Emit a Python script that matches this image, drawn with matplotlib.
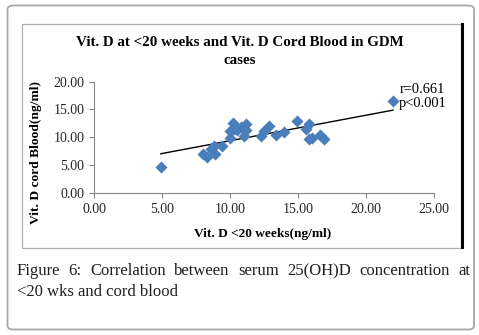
import numpy as np
import matplotlib
matplotlib.use('Agg')
import matplotlib.pyplot as plt
from matplotlib.patches import FancyBboxPatch, Rectangle
from matplotlib.lines import Line2D

# valeurs
vit_d_20wk = [4.9, 8.0, 8.3, 8.6, 8.8, 8.9, 9.4, 10.0, 10.0, 10.2, 10.3, 10.5, 10.8, 11.0, 11.2,
              11.2, 12.3, 12.5, 12.9, 13.4, 14.0, 14.9, 15.6, 15.8, 15.8, 16.0, 16.6, 16.9, 22.0]
vit_d_cord = [4.6, 6.9, 6.4, 7.9, 8.5, 6.9, 8.4, 9.9, 11.2, 12.5, 11.5, 11.3, 11.8, 10.3, 12.3,
              11.3, 10.3, 11.2, 12.0, 10.4, 11.0, 13.0, 11.4, 12.3, 9.6, 9.9, 10.4, 9.6, 16.6]
x_ticks = [0, 5, 10, 15, 20, 25]
y_ticks = [0, 5, 10, 15, 20]
stats_text = ['r=0.661', 'p<0.001']
caption_line1 = 'Figure 6: Correlation between serum 25(OH)D concentration at'
caption_line2 = '<20 wks and cord blood'

W, H = 479, 335
serif = ['Liberation Serif', 'DejaVu Serif']

fig = plt.figure(figsize=(W / 100, H / 100), dpi=100)

def fx(px):
    return px / W

def fy(py):
    return 1 - py / H

# cadre exterieur arrondi
fig.patches.append(FancyBboxPatch((fx(7.5), fy(329.5)), fx(474) - fx(7.5), fy(5.5) - fy(329.5),
                                  boxstyle='round,pad=0,rounding_size=0.012',
                                  transform=fig.transFigure, fill=False,
                                  edgecolor='#a6a6a6', linewidth=1.3))
# cadre du graphique
fig.patches.append(Rectangle((fx(21.7), fy(247.7)), fx(461) - fx(21.7), fy(24) - fy(247.7),
                             transform=fig.transFigure, fill=False,
                             edgecolor='#b0b0b0', linewidth=0.9))
fig.lines.append(Line2D([fx(461.5), fx(461.5)], [fy(23.5), fy(247)], transform=fig.transFigure,
                        color='black', linewidth=2.2))

ax = fig.add_axes([fx(94.3), fy(192.7), fx(433.7) - fx(94.3), fy(81.7) - fy(192.7)])

ax.scatter(vit_d_20wk, vit_d_cord, marker='D', s=38, color='#4a7ebb', linewidths=0, zorder=3)

x = np.array(vit_d_20wk)
y = np.array(vit_d_cord)
a, b = np.polyfit(x, y, 1)
xl = np.array([x.min(), x.max()])
ax.plot(xl, a * xl + b, color='black', linewidth=1.0, zorder=2)

ax.set_xlim(0, 25)
ax.set_ylim(0, 20)
ax.set_xticks(x_ticks)
ax.set_yticks(y_ticks)
ax.set_xticklabels(['%.2f' % v for v in x_ticks], fontfamily=serif, fontsize=10, color='#262626')
ax.set_yticklabels(['%.2f' % v for v in y_ticks], fontfamily=serif, fontsize=10, color='#262626')
ax.tick_params(direction='out', length=3.6, width=0.8, color='#868686', pad=3.5)
for s in ['top', 'right']:
    ax.spines[s].set_visible(False)
for s in ['left', 'bottom']:
    ax.spines[s].set_color('#868686')
    ax.spines[s].set_linewidth(0.8)
ax.patch.set_alpha(0)

ax.set_xlabel('Vit. D <20 weeks(ng/ml)', fontfamily=serif, fontweight='bold', fontsize=9.6)
ax.set_ylabel('Vit. D cord Blood(ng/ml)', fontfamily=serif, fontweight='bold', fontsize=9.7)
ax.xaxis.set_label_coords((263 - 94.3) / 339.4, (192.7 - 228) / 111)
ax.yaxis.set_label_coords((42.5 - 94.3) / 339.4, (192.7 - 152) / 111)

fig.text(fx(240), fy(42), 'Vit. D at <20 weeks and Vit. D Cord Blood in GDM', ha='center', va='center',
         fontfamily=serif, fontweight='bold', fontsize=10.8)
fig.text(fx(240), fy(60), 'cases', ha='center', va='center',
         fontfamily=serif, fontweight='bold', fontsize=10.8)

fig.text(fx(400), fy(89.3), stats_text[0], ha='left', va='center', fontfamily=serif, fontsize=10.4)
fig.text(fx(399), fy(103.3), stats_text[1], ha='left', va='center', fontfamily=serif, fontsize=10.4)

# legende justifiee
cap_color = '#231f20'
cap_size = 12
renderer = fig.canvas.get_renderer()
words = caption_line1.split(' ')
items = [fig.text(0, fy(271), w, ha='left', va='center', fontfamily=serif, fontsize=cap_size,
                  color=cap_color) for w in words]
widths = [t.get_window_extent(renderer).width for t in items]
x0, x1 = 16.7, 470
gap = (x1 - x0 - sum(widths)) / (len(words) - 1)
pos = x0
for t, wd in zip(items, widths):
    t.set_x(fx(pos))
    pos += wd + gap
fig.text(fx(16.7), fy(292), caption_line2, ha='left', va='center', fontfamily=serif,
         fontsize=cap_size, color=cap_color)

fig.savefig('out.png', dpi=100)
